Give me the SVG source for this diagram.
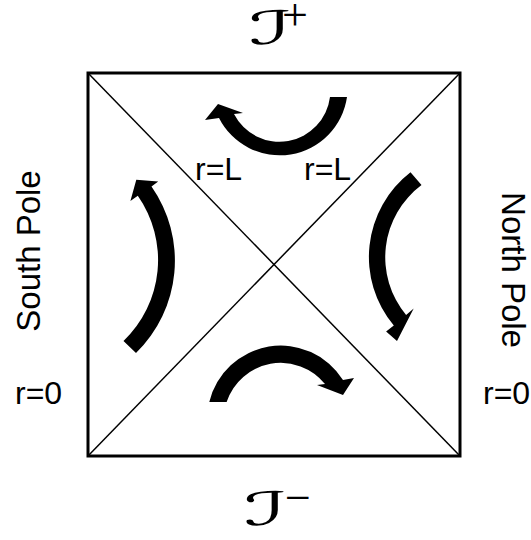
<svg xmlns="http://www.w3.org/2000/svg" width="531" height="540" viewBox="0 0 531 540">
<style>
.lbl{font-family:"Liberation Sans",Arial,sans-serif;font-size:32px;fill:#000}
.pole{font-family:"Liberation Sans",Arial,sans-serif;font-size:33px;fill:#000}
.scri{font-family:"DejaVu Sans","Noto Sans",serif;font-size:46px;fill:#000}
.sup{font-family:"Liberation Serif",serif;font-size:46px;fill:#000}
.edge{fill:none;stroke:#000;stroke-width:3}
.diag{fill:none;stroke:#000;stroke-width:1.5}
.arr{fill:#000;stroke:none}
</style>
<rect width="531" height="540" fill="#fff"/>
<g id="frame">
<rect class="edge" x="88" y="73" width="372" height="383"/>
</g>
<g id="connectors">
<line class="diag" x1="88" y1="73" x2="460" y2="456"/>
<line class="diag" x1="460" y1="73" x2="88" y2="456"/>
</g>
<g id="arrows">
<g id="arrow-top">
<path class="arr" d="M347,97 A68,68 0 0 1 219,118 L205,120 L218,104 L243,113 L234,114 A51,51 0 0 0 330,97 Z"/>
</g>
<g id="arrow-left">
<path class="arr" d="M123.5,341 A112,112 0 0 0 137.8,195.8 L130.4,200.9 L136.3,179.7 L158.2,181.4 L151.5,186.6 A129,129 0 0 1 136,353 Z"/>
</g>
<g id="arrow-right">
<path class="arr" d="M410.5,172.3 A107,107 0 0 0 393.8,325.6 L386.1,331.6 L397,341 L413.7,308.4 L406.1,314.9 A90,90 0 0 1 421.5,185.1 Z"/>
</g>
<g id="arrow-bottom">
<path class="arr" d="M209.3,402 A73.5,73.5 0 0 1 343,380 L354,378 L343,395 L317,385 L325,384 A57,57 0 0 0 226.6,402 Z"/>
</g>
</g>
<g id="labels">
<text class="lbl" x="195" y="180">r=L</text>
<text class="lbl" x="304" y="180">r=L</text>
<text class="lbl" x="15" y="404">r=0</text>
<text class="lbl" x="483" y="404">r=0</text>
<text class="pole" text-anchor="middle" transform="translate(40,251) rotate(-90)">South Pole</text>
<text class="pole" text-anchor="middle" transform="translate(502,270) rotate(90)">North Pole</text>
<g id="scri-plus"><text class="scri" transform="translate(249,44) scale(2,1)">ℐ</text><text class="sup" x="282" y="30">+</text></g>
<g id="scri-minus"><text class="scri" transform="translate(244,525) scale(2,1)">ℐ</text><text class="sup" x="285" y="513">−</text></g>
</g>
</svg>
